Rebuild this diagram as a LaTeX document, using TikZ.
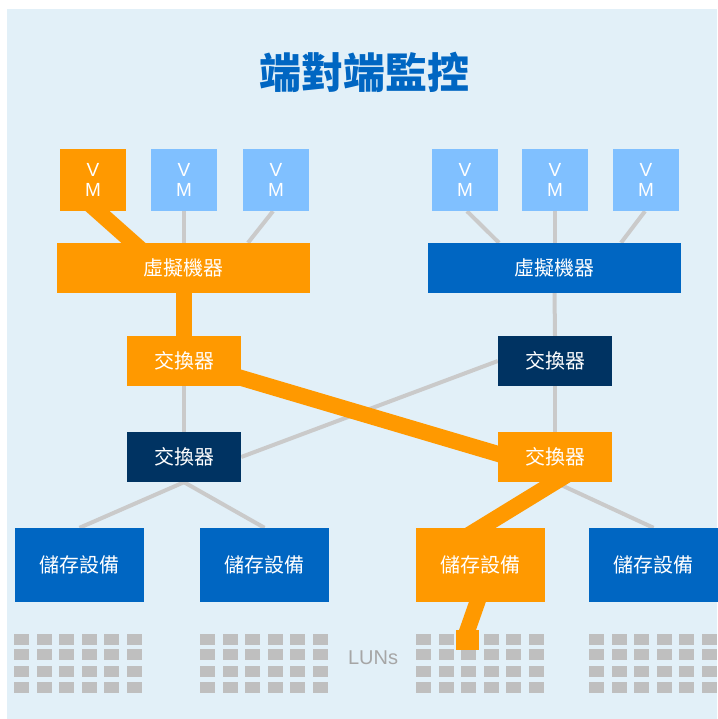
\documentclass[tikz,border=0pt]{standalone}
\usepackage{fontspec}
\setmainfont{Noto Sans CJK TC}
\newfontfamily\latinfont{Liberation Sans}
\usetikzlibrary{calc}
\definecolor{bgpanel}{HTML}{E2F0F8}
\definecolor{orng}{HTML}{FF9900}
\definecolor{lblue}{HTML}{80C0FF}
\definecolor{mblue}{HTML}{0066C2}
\definecolor{navy}{HTML}{003362}
\definecolor{lnk}{HTML}{CACACA}
\definecolor{lungray}{HTML}{BFBFBF}
\definecolor{luntext}{HTML}{A6A6A6}
\pgfdeclarelayer{bg}
\pgfdeclarelayer{links}
\pgfsetlayers{bg,links,main}
\tikzset{
  box/.style={inner sep=0pt, text=white, font=\fontsize{20}{22}\selectfont},
  vmbox/.style={box, minimum width=66pt, minimum height=62pt, align=center, font=\latinfont\fontsize{19}{20}\selectfont},
  hostbox/.style={box, minimum width=253pt, minimum height=50pt},
  swbox/.style={box, minimum width=114pt, minimum height=50pt},
  stbox/.style={box, minimum width=129pt, minimum height=74pt},
  thinlink/.style={draw=lnk, line width=4pt},
  hotlink/.style={draw=orng, line width=16pt},
  lunsq/.style={fill=lungray, draw=none}
}
\begin{document}
\begin{tikzpicture}[x=1pt,y=-1pt]
\useasboundingbox (0,0) rectangle (717,719);
\begin{pgfonlayer}{bg}
  \fill[white] (0,0) rectangle (717,719);
  \fill[bgpanel] (7,9) rectangle (717,719);
  % LUN grids
  \foreach \gx in {14,200,416,589} {
    \foreach \c in {0,...,5} {
      \foreach \ry in {634,649,666,682} {
        \fill[lungray] ({\gx+\c*22.6},\ry) rectangle ++(15,11);
      }
    }
  }
\end{pgfonlayer}

\node[font=\bfseries\fontsize{42}{46}\selectfont, text=mblue] (title) at (364,72) {端對端監控};

% VMs
\node[vmbox, fill=orng]  (vl1) at (93,180) {V\\M};
\node[vmbox, fill=lblue] (vl2) at (184,180) {V\\M};
\node[vmbox, fill=lblue] (vl3) at (276,180) {V\\M};
\node[vmbox, fill=lblue] (vr1) at (465,180) {V\\M};
\node[vmbox, fill=lblue] (vr2) at (555,180) {V\\M};
\node[vmbox, fill=lblue] (vr3) at (646,180) {V\\M};

% hosts
\node[hostbox, fill=orng]  (hostL) at (183.5,268) {虛擬機器};
\node[hostbox, fill=mblue] (hostR) at (554.5,268) {虛擬機器};

% switches
\node[swbox, fill=orng] (swTL) at (184,361) {交換器};
\node[swbox, fill=navy] (swTR) at (555,361) {交換器};
\node[swbox, fill=navy] (swBL) at (184,457) {交換器};
\node[swbox, fill=orng] (swBR) at (555,457) {交換器};

% storage
\node[stbox, fill=mblue] (st1) at (79.5,565) {儲存設備};
\node[stbox, fill=mblue] (st2) at (264.5,565) {儲存設備};
\node[stbox, fill=orng]  (st3) at (480.5,565) {儲存設備};
\node[stbox, fill=mblue] (st4) at (653.5,565) {儲存設備};

% highlighted LUN
\node[fill=orng, minimum width=23pt, minimum height=20pt, inner sep=0pt] (lunhot) at (467.5,640) {};
\node[font=\latinfont\fontsize{20}{22}\selectfont, text=luntext] (luns) at (373,658) {LUNs};

\begin{pgfonlayer}{links}
  % gray links
  \draw[thinlink] (vl2.south) -- (vl2.south |- hostL.north);
  \draw[thinlink] ($(vl3.south)+(-3,0)$) -- ($(hostL.north)+(64.5,0)$);
  \draw[thinlink] ($(vr1.south)+(2,0)$) -- ($(hostR.north)+(-55.5,0)$);
  \draw[thinlink] (vr2.south) -- (vr2.south |- hostR.north);
  \draw[thinlink] ($(vr3.south)+(-1,0)$) -- ($(hostR.north)+(66.5,0)$);
  \draw[thinlink] (hostR.south) -- (swTR.north);
  \draw[thinlink] (swTL.south) -- (swBL.north);
  \draw[thinlink] (swTR.south) -- (swBR.north);
  \draw[thinlink] (swBL.east) -- (swTR.west);
  \draw[thinlink] (swBL.south) -- (st1.north);
  \draw[thinlink] (swBL.south) -- (st2.north);
  \draw[thinlink] (swBR.south) -- (st4.north);
  % highlighted path
  \draw[hotlink] ($(vl1.center)+(-9,19)$) -- ($(hostL.center)+(-36.5,-13)$);
  \draw[hotlink] (swTL.center) -- (swTL.center |- hostL.center);
  \draw[hotlink] (swTL.center) -- ($(swBR.center)+(-28,5.5)$);
  \draw[hotlink] ($(swBR.center)+(16.6,15)$) -- ($(st3.center)+(-15,-28)$);
  \draw[hotlink] ($(st3.center)+(0,28)$) -- ($(lunhot.center)+(-3.5,0)$);
\end{pgfonlayer}
\end{tikzpicture}
\end{document}
